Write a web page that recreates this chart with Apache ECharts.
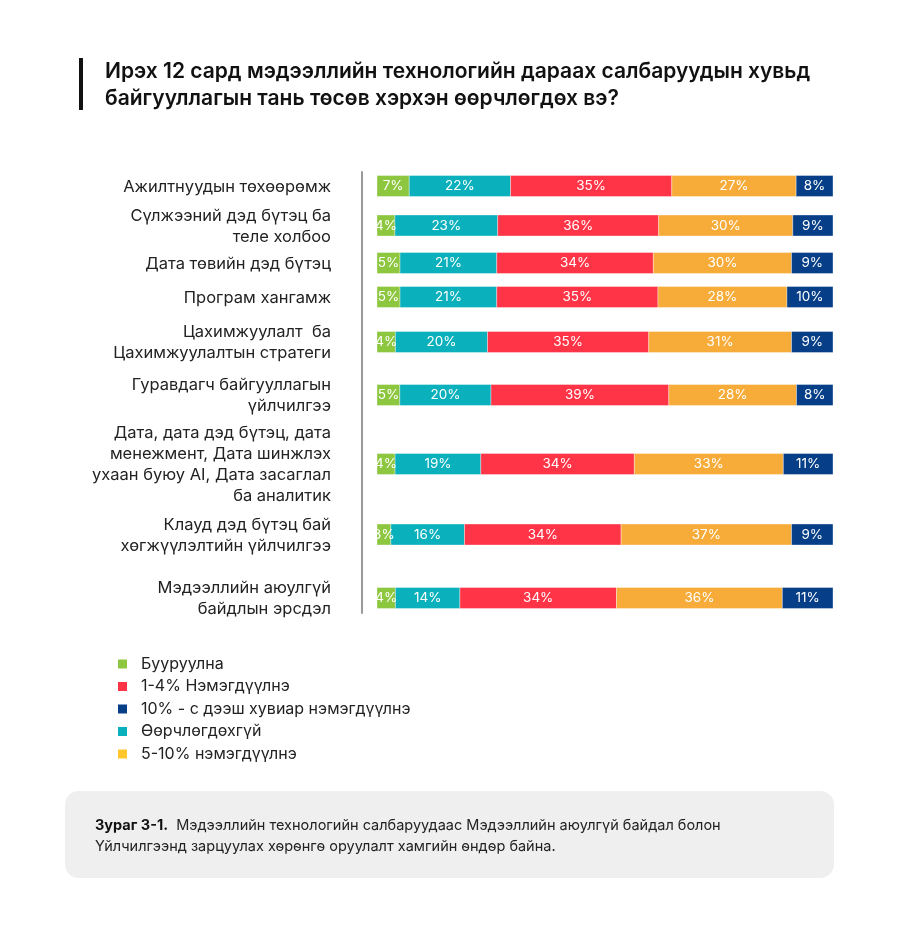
<!DOCTYPE html>
<html>
<head>
<meta charset="utf-8">
<script src="https://cdn.jsdelivr.net/npm/echarts@6/dist/echarts.min.js"></script>
<style>
  html, body { margin: 0; padding: 0; background: #fff; }
  #chart { width: 900px; height: 933px; }
</style>
</head>
<body>
<div id="chart"></div>
<script>
// categories (top to bottom)
const categories = [
  'Ажилтнуудын төхөөрөмж',
  'Сүлжээний дэд бүтэц ба\nтеле холбоо',
  'Дата төвийн дэд бүтэц',
  'Програм хангамж',
  'Цахимжуулалт  ба\nЦахимжуулалтын стратеги',
  'Гуравдагч байгууллагын\nүйлчилгээ',
  'Дата, дата дэд бүтэц, дата\nменежмент, Дата шинжлэх\nухаан буюу AI, Дата засаглал\nба аналитик',
  'Клауд дэд бүтэц бай\nхөгжүүлэлтийн үйлчилгээ',
  'Мэдээллийн аюулгүй\nбайдлын эрсдэл'
]

// series values, %
const decrease = [7, 4, 5, 5, 4, 5, 4, 3, 4]
const noChange = [22, 23, 21, 21, 20, 20, 19, 16, 14]
const up1to4 = [35, 36, 34, 35, 35, 39, 34, 34, 34]
const up5to10 = [27, 30, 30, 28, 31, 28, 33, 37, 36]
const up10plus = [8, 9, 9, 10, 9, 8, 11, 9, 11]

const seriesNames = ['Бууруулна', 'Өөрчлөгдөхгүй', '1-4% Нэмэгдүүлнэ', '5-10% нэмэгдүүлнэ', '10% - с дээш хувиар нэмэгдүүлнэ']
const seriesValues = [decrease, noChange, up1to4, up5to10, up10plus]
const legendOrder = ['Бууруулна', '1-4% Нэмэгдүүлнэ', '10% - с дээш хувиар нэмэгдүүлнэ', 'Өөрчлөгдөхгүй', '5-10% нэмэгдүүлнэ']

// layout: row centres on the hidden vertical scale (rows are spaced by label height)
const rowPos = [14, 53.5, 91, 125, 170, 223, 292, 362.5, 426]
const colors = ['#8DC63F', '#0AB0BB', '#FF3446', '#F7AC3A', '#063F87']
const FONT = 'Inter, "Noto Sans", sans-serif'
const BAR_H = 21

var chart = echarts.init(document.getElementById('chart'))

// normalise each row to 100 so every bar spans the full width
var totals = categories.map(function (c, i) {
  return seriesValues.reduce(function (s, arr) { return s + arr[i] }, 0)
})

var series = seriesNames.map(function (name, si) {
  var data = categories.map(function (c, i) {
    var start = 0
    for (var k = 0; k < si; k++) start += seriesValues[k][i] / totals[i] * 100
    var end = start + seriesValues[si][i] / totals[i] * 100
    return [rowPos[i], start, end, seriesValues[si][i]]
  })
  return {
    name: name,
    type: 'custom',
    itemStyle: { color: colors[si] },
    encode: { x: [1, 2], y: 0 },
    data: data,
    renderItem: function (params, api) {
      var p0 = api.coord([api.value(1), api.value(0)])
      var p1 = api.coord([api.value(2), api.value(0)])
      return {
        type: 'rect',
        shape: { x: p0[0], y: p0[1] - BAR_H / 2, width: p1[0] - p0[0], height: BAR_H },
        style: { fill: colors[si], stroke: 'rgba(255,255,255,0.6)', lineWidth: 0.6 },
        textContent: {
          style: { text: api.value(3) + '%', fill: '#fff', fontSize: 13.5, fontFamily: FONT }
        },
        textConfig: { position: 'inside' }
      }
    }
  }
})

// category labels left of the bars
series.push({
  name: 'labels',
  type: 'custom',
  silent: true,
  encode: { x: 0, y: 1 },
  data: rowPos.map(function (p) { return [0, p] }),
  renderItem: function (params, api) {
    var p = api.coord([0, api.value(1)])
    return {
      type: 'text',
      x: p[0] - 46,
      y: p[1] + 1,
      style: {
        text: categories[params.dataIndex],
        align: 'right',
        verticalAlign: 'middle',
        fontSize: 16.5,
        lineHeight: 21,
        fontFamily: FONT,
        fill: '#222'
      }
    }
  }
})

var option = {
  backgroundColor: '#fff',
  animation: false,
  title: {
    text: 'Ирэх 12 сард мэдээллийн технологийн дараах салбаруудын хувьд\nбайгууллагын тань төсөв хэрхэн өөрчлөгдөх вэ?',
    left: 105,
    top: 58,
    padding: 0,
    textStyle: {
      fontFamily: FONT,
      fontSize: 21,
      fontWeight: 600,
      lineHeight: 27,
      color: '#111'
    }
  },
  legend: {
    orient: 'vertical',
    left: 118,
    top: 656,
    padding: 0,
    itemWidth: 9,
    itemHeight: 9,
    itemGap: 6.5,
    icon: 'rect',
    data: legendOrder.map(function (n) {
      return n === '5-10% нэмэгдүүлнэ' ? { name: n, itemStyle: { color: '#FFC72C' } } : n
    }),
    textStyle: { fontFamily: FONT, fontSize: 16, lineHeight: 16, color: '#222', padding: [0, 0, 0, 9] }
  },
  grid: { left: 377, right: 67, top: 172, height: 441 },
  xAxis: { type: 'value', min: 0, max: 100, show: false },
  yAxis: {
    type: 'value',
    min: 0,
    max: 441,
    inverse: true,
    offset: 15,
    axisLine: { show: true, onZero: false, lineStyle: { color: '#9a9a9a', width: 2 } },
    axisTick: { show: false },
    axisLabel: { show: false },
    splitLine: { show: false }
  },
  graphic: [
    {
      type: 'rect',
      left: 79,
      top: 58,
      shape: { width: 4, height: 52 },
      style: { fill: '#111' }
    },
    {
      type: 'rect',
      left: 65,
      top: 791,
      shape: { width: 769, height: 87, r: 14 },
      style: { fill: '#EFEFEF' }
    },
    {
      type: 'text',
      left: 95,
      top: 815,
      style: {
        text: '{b|Зураг 3-1.}  Мэдээллийн технологийн салбаруудаас Мэдээллийн аюулгүй байдал болон\nҮйлчилгээнд зарцуулах хөрөнгө оруулалт хамгийн өндөр байна.',
        fontFamily: FONT,
        fontSize: 14.5,
        lineHeight: 21,
        fill: '#222',
        rich: {
          b: { fontFamily: FONT, fontSize: 14.5, fontWeight: 700, fill: '#111' }
        }
      }
    }
  ],
  series: series
}

chart.setOption(option)
</script>
</body>
</html>
